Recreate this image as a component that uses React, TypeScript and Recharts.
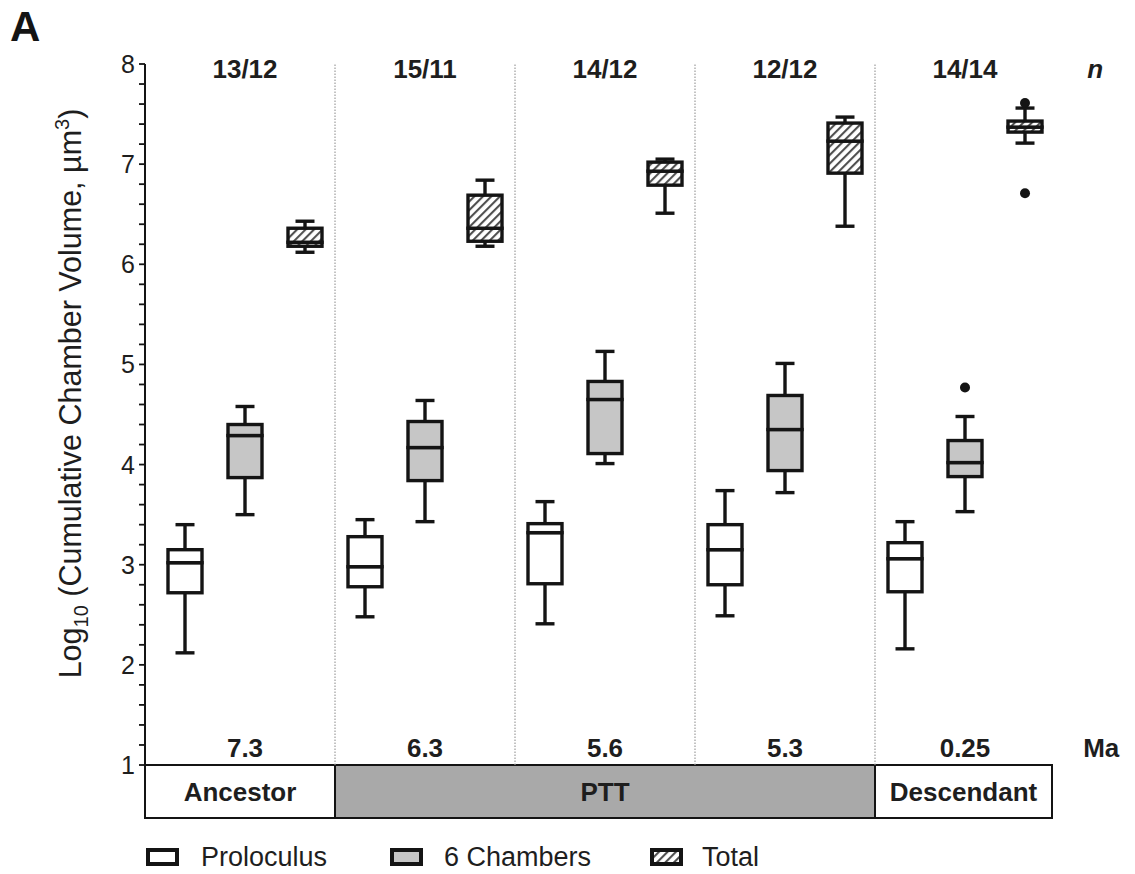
import React from 'react';
import {
  ComposedChart,
  Bar,
  Scatter,
  XAxis,
  YAxis,
  ReferenceLine,
  ReferenceArea,
  ReferenceDot,
} from 'recharts';

// ---------------- data ----------------
const periodNames = ['Ancestor', 'PTT', 'Descendant'];
const periodFirstGroup = [0, 1, 4];
const periodLastGroup = [0, 3, 4];
const sampleSizes = ['13/12', '15/11', '14/12', '12/12', '14/14'];
const agesMa = ['7.3', '6.3', '5.6', '5.3', '0.25'];
const seriesNames = ['Proloculus', '6 Chambers', 'Total'];
const yMajorTicks = [1, 2, 3, 4, 5, 6, 7, 8];

// [min, q1, median, q3, max] per sample group
const proloculus = [
  [2.12, 2.72, 3.02, 3.15, 3.4],
  [2.48, 2.78, 2.98, 3.28, 3.45],
  [2.41, 2.81, 3.32, 3.41, 3.63],
  [2.49, 2.8, 3.15, 3.4, 3.74],
  [2.16, 2.73, 3.06, 3.22, 3.43],
];
const sixChambers = [
  [3.5, 3.87, 4.29, 4.4, 4.58],
  [3.43, 3.84, 4.17, 4.43, 4.64],
  [4.01, 4.11, 4.65, 4.83, 5.13],
  [3.72, 3.94, 4.35, 4.69, 5.01],
  [3.53, 3.88, 4.02, 4.24, 4.48],
];
const total = [
  [6.12, 6.18, 6.22, 6.36, 6.43],
  [6.18, 6.23, 6.36, 6.69, 6.84],
  [6.51, 6.79, 6.93, 7.02, 7.05],
  [6.38, 6.91, 7.23, 7.41, 7.47],
  [7.21, 7.32, 7.37, 7.43, 7.56],
];
const outlierGroup = [4, 4, 4];
const outlierSeries = [1, 2, 2];
const outlierValues = [4.77, 7.61, 6.71];

// ---------------- styles / layout ----------------
const FONT = '"Liberation Sans", Arial, Helvetica, sans-serif';
const INK = '#141414';
const TEXT = '#1e1e1e';
const seriesFills = ['#ffffff', '#c6c6c6', 'url(#hatchTotal)'];
const periodFills = ['#ffffff', '#a9a9a9', '#ffffff'];
const X_MIN = -0.667;
const X_MAX = 14.5;
const BAND_RIGHT = 14.45;
const BAND_BOTTOM = 0.47;
const CAP = 19;
const LW = 3.4;

// ---------------- derived tables ----------------
const seriesStats = [proloculus, sixChambers, total];
const rows: any[] = [];
sampleSizes.forEach((_, g) => {
  seriesNames.forEach((__, s) => {
    const [mn, q1, md, q3, mx] = seriesStats[s][g];
    rows.push({
      slot: `${g}-${s}`,
      pos: g * 3 + s,
      series: s,
      base: mn,
      w1: q1 - mn,
      b1: md - q1,
      b2: q3 - md,
      w2: mx - q3,
    });
  });
});
const outlierRows = outlierValues.map((v, i) => ({
  pos: outlierGroup[i] * 3 + outlierSeries[i],
  v,
}));

const yTicks: number[] = [];
yMajorTicks.forEach((m, i) => {
  yTicks.push(m);
  if (i < yMajorTicks.length - 1) {
    for (let k = 1; k < 5; k++) yTicks.push(Math.round((m + k * 0.2) * 10) / 10);
  }
});

const groupCenter = (g: number) => g * 3 + 1;
const groupLeft = (g: number) => (g === 0 ? X_MIN : g * 3 - 0.5);
const groupRight = (g: number) => (g === sampleSizes.length - 1 ? BAND_RIGHT : g * 3 + 2.5);

// ---------------- shapes ----------------
const Empty = () => <g />;

const norm = (p: any) => {
  const top = Math.min(p.y, p.y + p.height);
  const h = Math.abs(p.height);
  return { top, h, cx: p.x + p.width / 2 };
};

const LowWhisker = (p: any) => {
  const { top, h, cx } = norm(p);
  return (
    <g>
      <line x1={cx} x2={cx} y1={top} y2={top + h} stroke={INK} strokeWidth={LW} />
      <line x1={cx - CAP / 2} x2={cx + CAP / 2} y1={top + h} y2={top + h} stroke={INK} strokeWidth={LW} />
    </g>
  );
};

const HighWhisker = (p: any) => {
  const { top, h, cx } = norm(p);
  return (
    <g>
      <line x1={cx} x2={cx} y1={top} y2={top + h} stroke={INK} strokeWidth={LW} />
      <line x1={cx - CAP / 2} x2={cx + CAP / 2} y1={top} y2={top} stroke={INK} strokeWidth={LW} />
    </g>
  );
};

const BoxPart = (p: any) => {
  const { top, h } = norm(p);
  return (
    <rect
      x={p.x}
      y={top}
      width={p.width}
      height={h}
      fill={seriesFills[p.payload.series]}
      stroke={INK}
      strokeWidth={LW}
    />
  );
};

const OutlierDot = (p: any) => <circle cx={p.cx} cy={p.cy} r={5} fill={INK} />;

const YTick = (p: any) => {
  const { x, y, payload } = p;
  const v = payload.value;
  const major = Math.abs(v - Math.round(v)) < 1e-6;
  return (
    <g>
      <line x1={x - 6} x2={x} y1={y} y2={y} stroke={INK} strokeWidth={1.8} />
      {major && (
        <text x={x - 10} y={y} dy="0.36em" textAnchor="end" fontSize={25} fill={TEXT} fontFamily={FONT}>
          {Math.round(v)}
        </text>
      )}
    </g>
  );
};

const YLabel = (p: any) => {
  const vb = p.viewBox || { x: 77, y: 56, width: 60, height: 701 };
  const cx = vb.x - 4;
  const cy = vb.y + vb.height / 2 - 21;
  return (
    <text
      transform={`translate(${cx},${cy}) rotate(-90)`}
      textAnchor="middle"
      fontSize={30.5}
      fill={TEXT}
      fontFamily={FONT}
    >
      <tspan>Log</tspan>
      <tspan fontSize={20} dy={7}>10</tspan>
      <tspan dy={-7}> (Cumulative Chamber Volume, µm</tspan>
      <tspan fontSize={20} dy={-12}>3</tspan>
      <tspan dy={12}>)</tspan>
    </text>
  );
};

const boldLabel = (value: string, extra: any = {}) => ({
  value,
  position: 'center' as const,
  fill: TEXT,
  fontSize: 26,
  fontWeight: 700,
  fontFamily: FONT,
  ...extra,
});

// ---------------- component ----------------
export default function App() {
  const legendX = [140, 384, 644];
  const legendTextX = [193, 436, 694];
  return (
    <div style={{ position: 'relative', width: 1119, height: 866, background: '#fff' }}>
      <svg width={0} height={0} style={{ position: 'absolute' }}>
        <defs>
          <pattern id="hatchTotal" patternUnits="userSpaceOnUse" width={6} height={6} patternTransform="rotate(45)">
            <rect width={6} height={6} fill="#ffffff" />
            <line x1={1} y1={0} x2={1} y2={6} stroke="#505050" strokeWidth={2.2} />
          </pattern>
        </defs>
      </svg>
      <ComposedChart
        width={1119}
        height={826}
        data={rows}
        margin={{ top: 56, right: 72, bottom: 69, left: 77 }}
        style={{ fontFamily: FONT }}
      >
        <XAxis xAxisId="cat" dataKey="slot" type="category" hide padding={{ left: 10, right: 0 }} />
        <XAxis xAxisId="num" dataKey="pos" type="number" domain={[X_MIN, X_MAX]} allowDataOverflow hide />
        <YAxis
          type="number"
          domain={[1, 8]}
          allowDataOverflow
          ticks={yTicks}
          interval={0}
          width={60}
          tickSize={0}
          tickMargin={0}
          tickLine={false}
          tick={<YTick />}
          axisLine={{ stroke: INK, strokeWidth: 2 }}
          label={<YLabel />}
        />

        {[1, 2, 3, 4].map((g) => (
          <ReferenceLine
            key={`sep${g}`}
            xAxisId="num"
            x={g * 3 - 0.5}
            stroke="#9c9c9c"
            strokeWidth={1.2}
            strokeDasharray="1.5 1.5"
            ifOverflow="visible"
          />
        ))}

        {periodNames.map((name, i) => (
          <ReferenceArea
            key={name}
            xAxisId="num"
            x1={groupLeft(periodFirstGroup[i])}
            x2={groupRight(periodLastGroup[i])}
            y1={BAND_BOTTOM}
            y2={1}
            fill={periodFills[i]}
            fillOpacity={1}
            stroke={INK}
            strokeWidth={2}
            ifOverflow="visible"
            label={boldLabel(name)}
          />
        ))}

        <Bar xAxisId="cat" dataKey="base" stackId="box" barSize={34} shape={<Empty />} isAnimationActive={false} />
        <Bar xAxisId="cat" dataKey="w1" stackId="box" barSize={34} shape={<LowWhisker />} isAnimationActive={false} />
        <Bar xAxisId="cat" dataKey="b1" stackId="box" barSize={34} shape={<BoxPart />} isAnimationActive={false} />
        <Bar xAxisId="cat" dataKey="b2" stackId="box" barSize={34} shape={<BoxPart />} isAnimationActive={false} />
        <Bar xAxisId="cat" dataKey="w2" stackId="box" barSize={34} shape={<HighWhisker />} isAnimationActive={false} />

        <Scatter xAxisId="num" data={outlierRows} dataKey="v" shape={<OutlierDot />} isAnimationActive={false} />

        {sampleSizes.map((s, g) => (
          <ReferenceDot
            key={`n${g}`}
            xAxisId="num"
            x={groupCenter(g)}
            y={7.95}
            r={0}
            fill="none"
            stroke="none"
            ifOverflow="visible"
            label={boldLabel(s)}
          />
        ))}
        <ReferenceDot
          xAxisId="num"
          x={15.17}
          y={7.95}
          r={0}
          fill="none"
          stroke="none"
          ifOverflow="visible"
          label={boldLabel('n', { fontStyle: 'italic' })}
        />
        {agesMa.map((a, g) => (
          <ReferenceDot
            key={`ma${g}`}
            xAxisId="num"
            x={groupCenter(g)}
            y={1.175}
            r={0}
            fill="none"
            stroke="none"
            ifOverflow="visible"
            label={boldLabel(a)}
          />
        ))}
        <ReferenceDot
          xAxisId="num"
          x={15.27}
          y={1.175}
          r={0}
          fill="none"
          stroke="none"
          ifOverflow="visible"
          label={boldLabel('Ma')}
        />
      </ComposedChart>

      <svg
        width={1119}
        height={866}
        style={{ position: 'absolute', left: 0, top: 0, pointerEvents: 'none', overflow: 'visible' }}
      >
        <text x={2} y={33} fontSize={42} fontWeight={700} fill={INK} fontFamily={FONT}>
          A
        </text>
        {seriesNames.map((name, i) => (
          <g key={name}>
            <rect
              x={legendX[i]}
              y={842}
              width={29}
              height={14}
              fill={seriesFills[i]}
              stroke={INK}
              strokeWidth={4}
            />
            <text x={legendTextX[i]} y={858} fontSize={27} fill={TEXT} fontFamily={FONT}>
              {name}
            </text>
          </g>
        ))}
      </svg>
    </div>
  );
}
